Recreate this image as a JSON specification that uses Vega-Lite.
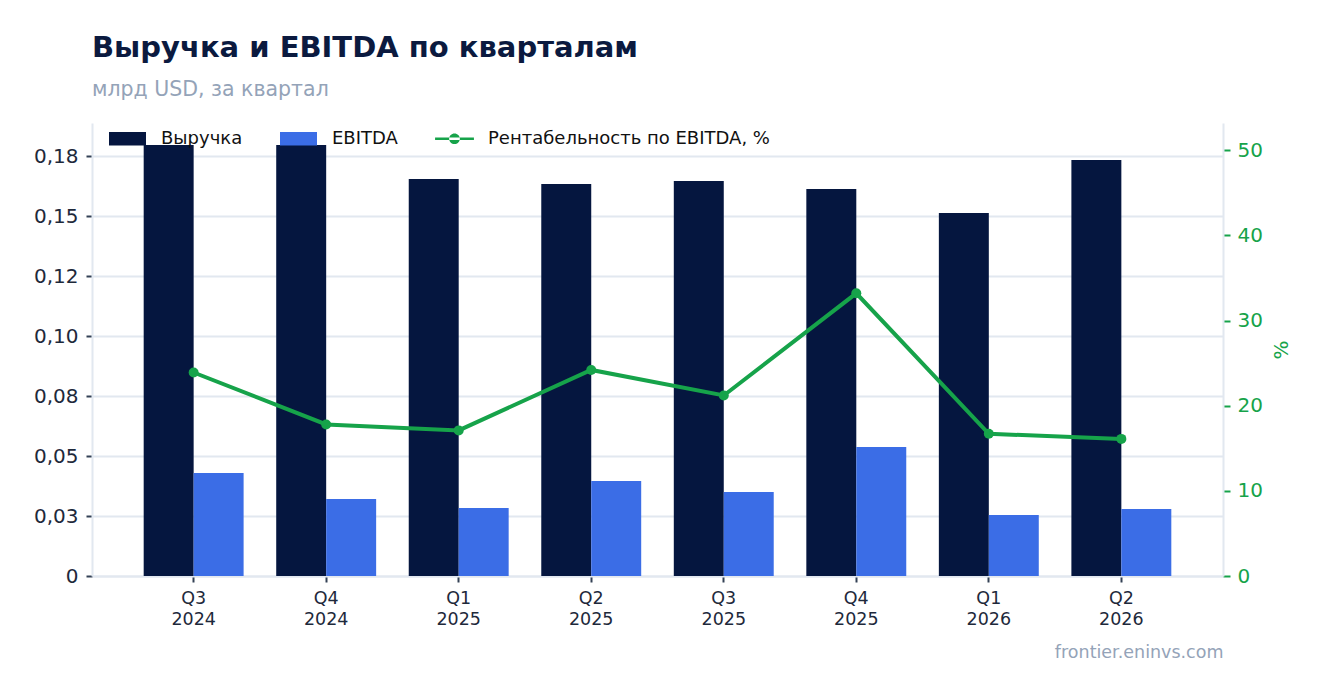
{
  "$schema": "https://vega.github.io/schema/vega-lite/v6.json",
  "autosize": "none",
  "width": 1131,
  "height": 453,
  "padding": {"left": 92, "top": 123, "right": 100, "bottom": 117},
  "background": "white",
  "config": {
    "font": "DejaVu Sans",
    "view": {"stroke": null}
  },
  "title": {
    "text": "Выручка и EBITDA по кварталам",
    "subtitle": "млрд USD, за квартал",
    "anchor": "start",
    "frame": "group",
    "fontSize": 29,
    "fontWeight": "bold",
    "color": "#0b1a3f",
    "subtitleFontSize": 20.5,
    "subtitleColor": "#94a3b8",
    "subtitlePadding": 17,
    "offset": 20
  },
  "data": {
    "values": [
      {"quarter": "Q3 2024", "Выручка": 0.1796, "EBITDA": 0.0429, "margin": 23.9},
      {"quarter": "Q4 2024", "Выручка": 0.1796, "EBITDA": 0.0321, "margin": 17.8},
      {"quarter": "Q1 2025", "Выручка": 0.1654, "EBITDA": 0.0283, "margin": 17.1},
      {"quarter": "Q2 2025", "Выручка": 0.1633, "EBITDA": 0.0396, "margin": 24.2},
      {"quarter": "Q3 2025", "Выручка": 0.1646, "EBITDA": 0.0350, "margin": 21.2},
      {"quarter": "Q4 2025", "Выручка": 0.1613, "EBITDA": 0.0538, "margin": 33.2},
      {"quarter": "Q1 2026", "Выручка": 0.1513, "EBITDA": 0.0254, "margin": 16.7},
      {"quarter": "Q2 2026", "Выручка": 0.1733, "EBITDA": 0.0279, "margin": 16.1}
    ]
  },
  "encoding": {
    "x": {
      "field": "quarter",
      "type": "nominal",
      "sort": null,
      "scale": {"paddingInner": 0.246, "paddingOuter": 0.39},
      "axis": {
        "title": "frontier.eninvs.com",
        "titleAnchor": "end",
        "titleColor": "#94a3b8",
        "titleFontSize": 17.5,
        "titleFontWeight": "normal",
        "titlePadding": 16,
        "labelAngle": 0,
        "labelExpr": "split(datum.label, ' ')",
        "labelFontSize": 17.5,
        "labelColor": "#1e293b",
        "labelLineHeight": 21,
        "labelPadding": 7,
        "tickColor": "#334155",
        "tickSize": 6,
        "tickWidth": 2,
        "domainColor": "#e2e8f0",
        "domainWidth": 2,
        "grid": false
      }
    }
  },
  "layer": [
    {
      "transform": [{"fold": ["Выручка", "EBITDA"], "as": ["series", "value"]}],
      "mark": {"type": "bar"},
      "encoding": {
        "xOffset": {
          "field": "series",
          "type": "nominal",
          "sort": ["Выручка", "EBITDA"],
          "scale": {"domain": ["Выручка", "EBITDA"], "paddingInner": 0, "paddingOuter": 0}
        },
        "y": {
          "field": "value",
          "type": "quantitative",
          "scale": {"domain": [0, 0.18875], "nice": false},
          "axis": {
            "title": null,
            "values": [0, 0.025, 0.05, 0.075, 0.1, 0.125, 0.15, 0.175],
            "labelExpr": "['0','0,03','0,05','0,08','0,10','0,12','0,15','0,18'][round(datum.value / 0.025)]",
            "labelFontSize": 20,
            "labelColor": "#1e293b",
            "labelPadding": 8,
            "tickColor": "#334155",
            "tickSize": 6,
            "tickWidth": 2,
            "domainColor": "#e2e8f0",
            "domainWidth": 2,
            "gridColor": "#e2e8f0",
            "gridWidth": 2
          }
        },
        "color": {
          "field": "series",
          "type": "nominal",
          "scale": {
            "domain": ["Выручка", "EBITDA", "Рентабельность по EBITDA, %"],
            "range": ["#05163f", "#3b6de6", "#16a34a"]
          },
          "legend": {
            "title": null,
            "orient": "none",
            "direction": "horizontal",
            "legendX": 17,
            "legendY": -3,
            "symbolSize": 1369,
            "symbolStrokeWidth": 0,
            "labelFontSize": 18,
            "labelLimit": 500,
            "labelColor": "#111111",
            "labelOffset": 15,
            "columnPadding": 37,
            "encode": {
              "symbols": {
                "update": {
                  "shape": {"signal": "datum.value == 'Рентабельность по EBITDA, %' ? 'M-1.05,-0.07H1.05V0.07H-1.05Z M-0.29,0A0.29,0.29 0 1,0 0.29,0A0.29,0.29 0 1,0 -0.29,0Z' : 'M-1,-0.36H1V0.36H-1Z'"},
                  "strokeWidth": {"value": 0}
                }
              }
            }
          }
        }
      }
    },
    {
      "mark": {"type": "line", "color": "#16a34a", "strokeWidth": 4, "point": {"filled": true, "size": 100, "color": "#16a34a"}},
      "encoding": {
        "y": {
          "field": "margin",
          "type": "quantitative",
          "scale": {"domain": [0, 53.2], "nice": false},
          "axis": {
            "orient": "right",
            "title": "%",
            "titleColor": "#16a34a",
            "titleFontSize": 20,
            "titleFontWeight": "normal",
            "titleAngle": -90,
            "titlePadding": 29,
            "values": [0, 10, 20, 30, 40, 50],
            "labelFontSize": 20,
            "labelColor": "#16a34a",
            "labelPadding": 7,
            "tickColor": "#16a34a",
            "tickSize": 7,
            "tickWidth": 2,
            "domainColor": "#e2e8f0",
            "domainWidth": 2,
            "grid": false
          }
        }
      }
    }
  ],
  "resolve": {"scale": {"y": "independent"}}
}
